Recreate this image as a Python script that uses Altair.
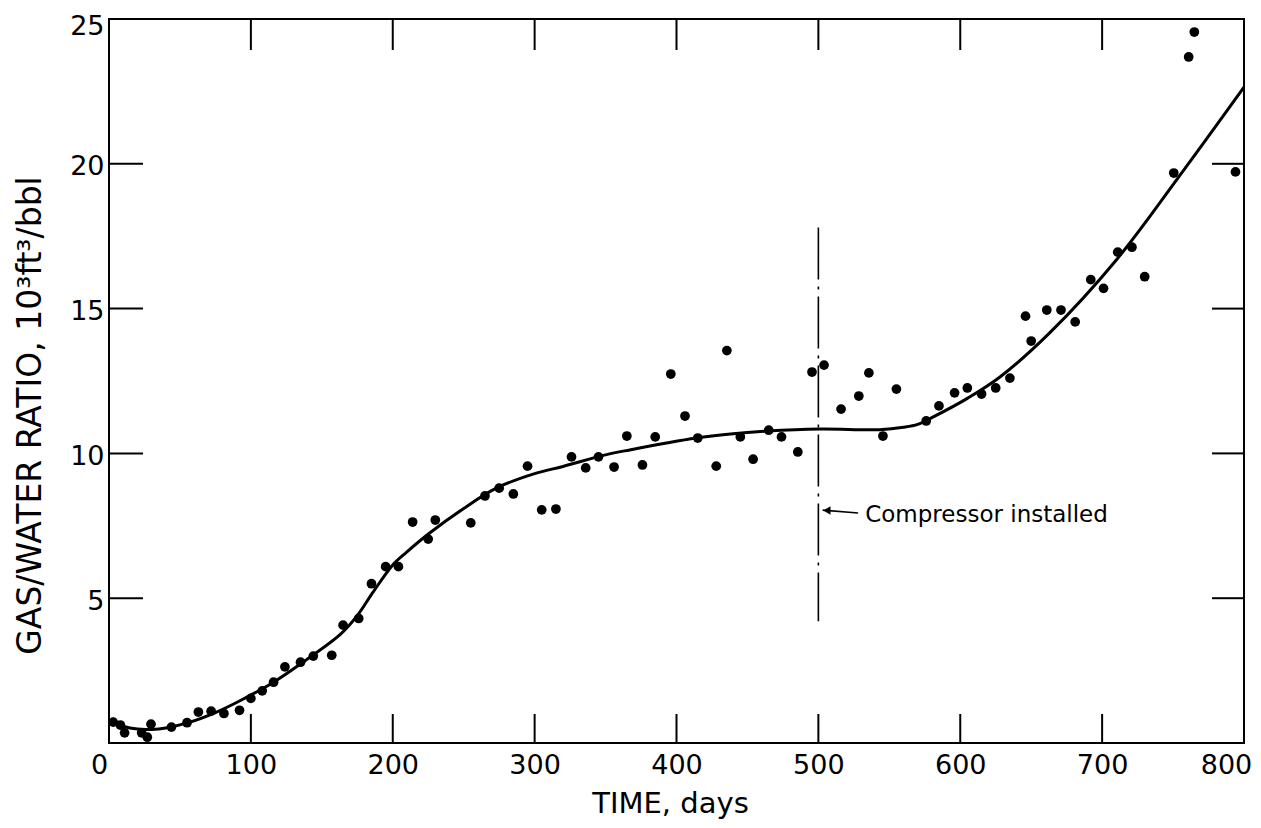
import altair as alt
import pandas as pd

# ---- data ----
days = [3, 8, 11, 23, 27, 29.6, 44, 55, 63, 72, 81, 92, 100, 108, 116, 124, 135, 144, 157,
        165, 176, 185, 195, 204, 214, 225, 230, 255, 265, 275, 285, 295, 305, 315, 326, 336,
        345, 356, 365, 376, 385, 396, 406, 415, 428, 435.5, 445, 454, 465, 474, 485.5, 495.5,
        504, 516, 528.5, 535.6, 545.5, 555, 576, 585, 596, 605, 615, 625, 635, 646, 650, 661,
        671, 681, 692, 701, 711, 721, 730, 750.5, 761, 765, 794]
gwr = [0.72, 0.62, 0.35, 0.35, 0.2, 0.65, 0.55, 0.7, 1.07, 1.1, 1.02, 1.13, 1.54, 1.8, 2.1,
       2.63, 2.79, 3.0, 3.03, 4.07, 4.3, 5.5, 6.09, 6.09, 7.63, 7.04, 7.7, 7.6, 8.53, 8.8,
       8.6, 9.56, 8.05, 8.08, 9.88, 9.5, 9.88, 9.53, 10.6, 9.6, 10.57, 12.74, 11.29, 10.53,
       9.56, 13.55, 10.57, 9.8, 10.8, 10.57, 10.05, 12.81, 13.05, 11.53, 11.98, 12.78, 10.6,
       12.22, 11.12, 11.64, 12.09, 12.26, 12.05, 12.26, 12.6, 14.74, 13.88, 14.95, 14.95,
       14.54, 16.0, 15.7, 16.95, 17.12, 16.1, 19.68, 23.69, 24.55, 19.72]

curve_days = [1, 10, 20, 30, 40, 57, 75, 92, 116, 139, 163, 175, 186, 200, 210, 226, 250,
              273, 300, 320, 350, 367, 414, 438, 464, 501, 543, 560, 570, 581, 605, 628, 663,
              710, 757, 800]
curve_gwr = [0.78, 0.58, 0.48, 0.47, 0.52, 0.72, 1.05, 1.45, 2.1, 2.87, 3.75, 4.4, 5.2, 6.15,
             6.6, 7.25, 8.1, 8.8, 9.3, 9.55, 9.95, 10.12, 10.53, 10.67, 10.77, 10.84, 10.82,
             10.9, 11.0, 11.26, 11.9, 12.64, 14.16, 16.68, 19.75, 22.65]

x_label_vals = [0, 100, 200, 300, 400, 500, 600, 700, 800]
y_label_vals = [5, 10, 15, 20, 25]
x_tick_vals = [100, 200, 300, 400, 500, 600, 700]
y_tick_vals = [5, 10, 15, 20]

compressor_day = [500]
compressor_top = [17.8]
compressor_bottom = [4.2]
annot_text = ["Compressor installed"]
annot_day = [533]
annot_gwr = [7.87]
arrow_days = [528, 503]
arrow_gwr = [7.94, 8.04]

# ---- layout ----
W, H = 1135, 724
FONT = "DejaVu Sans"

xs = alt.Scale(domain=[0, 800], nice=False, zero=False)
ys = alt.Scale(domain=[0, 25], nice=False, zero=False)

x_axis = alt.Axis(values=x_label_vals, ticks=False, domain=False, grid=False,
                  labelFontSize=27, labelFont=FONT, labelColor="black", labelPadding=9,
                  labelFlush=False, format="d",
                  labelOffset={"condition": [{"test": "datum.value == 0", "value": -10},
                                             {"test": "datum.value == 800", "value": -18}],
                               "value": 0},
                  titleFontSize=29, titleFont=FONT, titleFontWeight="normal",
                  titleColor="black", titleX=561, titleAlign="center",
                  titleY=60, titleBaseline="middle")
y_axis = alt.Axis(values=y_label_vals, ticks=False, domain=False, grid=False,
                  labelFontSize=27, labelFont=FONT, labelColor="black", labelPadding=5,
                  labelFlush=False, format="d",
                  labelOffset={"condition": {"test": "datum.value == 25", "value": 7},
                               "value": 3},
                  titleFontSize=33, titleFont=FONT, titleFontWeight="normal",
                  titleColor="black", titleAngle=270, titleX=-79, titleY=396,
                  titleAlign="center", titleBaseline="middle")

X = alt.X("x:Q", scale=xs, axis=x_axis, title="TIME, days")
Y = alt.Y("y:Q", scale=ys, axis=y_axis, title="GAS/WATER RATIO, 10³ft³/bbl")

pts_df = pd.DataFrame({"x": days, "y": gwr})
curve_df = pd.DataFrame({"x": curve_days, "y": curve_gwr})

points = alt.Chart(pts_df).mark_circle(size=95, color="black", opacity=1).encode(x=X, y=Y)
curve = alt.Chart(curve_df).mark_line(color="black", strokeWidth=3,
                                      interpolate="catmull-rom").encode(x=X, y=Y)

comp_df = pd.DataFrame({"x": compressor_day, "y": compressor_top, "y2": compressor_bottom})
comp_line = alt.Chart(comp_df).mark_rule(color="black", strokeWidth=1.6,
                                         strokeDash=[52, 7, 3, 7]).encode(
    x=X, y=Y, y2=alt.Y2("y2:Q"))

arrow_df = pd.DataFrame({"x": arrow_days, "y": arrow_gwr})
arrow_line = alt.Chart(arrow_df).mark_line(color="black", strokeWidth=1.6).encode(x=X, y=Y)
head_df = pd.DataFrame({"x": [arrow_days[1] + 3], "y": [arrow_gwr[1] - 0.01]})
arrow_head = alt.Chart(head_df).mark_point(shape="triangle-left", filled=True, size=70,
                                           color="black", opacity=1).encode(x=X, y=Y)

text_df = pd.DataFrame({"x": annot_day, "y": annot_gwr, "t": annot_text})
annot = alt.Chart(text_df).mark_text(align="left", baseline="middle", font=FONT,
                                     fontSize=23, color="black").encode(x=X, y=Y, text="t:N")

# inward ticks on all four sides
xt_df = pd.DataFrame({"x": x_tick_vals})
yt_df = pd.DataFrame({"y": y_tick_vals})
bottom_ticks = alt.Chart(xt_df).mark_rule(color="black", strokeWidth=2).encode(
    x=X, y=alt.value(H), y2=alt.value(H - 29))
top_ticks = alt.Chart(xt_df).mark_rule(color="black", strokeWidth=2).encode(
    x=X, y=alt.value(0), y2=alt.value(31))
left_ticks = alt.Chart(yt_df).mark_rule(color="black", strokeWidth=2).encode(
    y=Y, x=alt.value(0), x2=alt.value(34))
right_ticks = alt.Chart(yt_df).mark_rule(color="black", strokeWidth=2).encode(
    y=Y, x=alt.value(W - 32), x2=alt.value(W))

chart = alt.layer(
    bottom_ticks, top_ticks, left_ticks, right_ticks,
    comp_line, curve, points, arrow_line, arrow_head, annot
).properties(
    width=W, height=H,
    autosize=alt.AutoSizeParams(type="none"),
    padding={"left": 101, "top": 11, "right": 8, "bottom": 77},
    background="white",
).configure_view(stroke="black", strokeWidth=2)

chart.save("out.html", embed_options={"renderer": "svg", "actions": False})
